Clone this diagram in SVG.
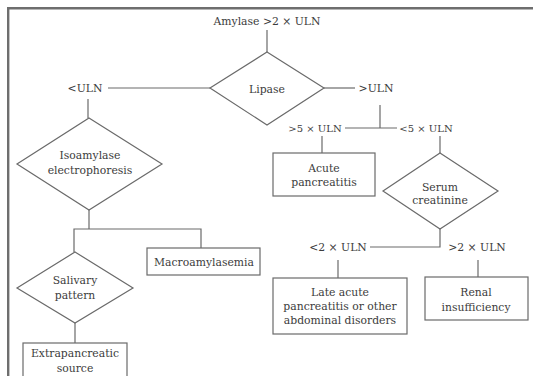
<svg xmlns="http://www.w3.org/2000/svg" width="533" height="376" viewBox="0 0 533 376">
  <style>
    .frame { stroke: #6e6e6e; stroke-width: 2.4; fill: none; }
    .shape { fill: #ffffff; stroke: #6a6a6a; stroke-width: 1.2; }
    .link { stroke: #6a6a6a; stroke-width: 1.2; fill: none; }
    text { font-family: "DejaVu Serif", "Liberation Serif", serif; font-size: 10.8px; fill: #3c3c3c; text-anchor: middle; dominant-baseline: central; }
    text.tight { font-size: 10px; }
  </style>
  <rect width="533" height="376" fill="#ffffff"/>
  <!-- page frame: top and left rules -->
  <path class="frame" d="M8.2,378 V8.2 H535"/>

  <!-- connectors and branch labels -->
  <g id="connectors">
    <path class="link" d="M267,30 V52"/>
    <path class="link" d="M210,88 H108"/>
    <path class="link" d="M324,88 H355"/>
    <path class="link" d="M380,105 V128 M345,128 H397"/>
    <path class="link" d="M88,99 V118"/>
    <path class="link" d="M322,136 V153"/>
    <path class="link" d="M440,136 V153"/>
    <path class="link" d="M89,210 V229 M74,252 V229 H201 V248"/>
    <path class="link" d="M75,323 V343"/>
    <path class="link" d="M440,229 V247 H370"/>
    <path class="link" d="M338,260 V278"/>
    <path class="link" d="M478,260 V277"/>
    <text x="267" y="21">Amylase &gt;2 × ULN</text>
    <text x="85" y="88">&lt;ULN</text>
    <text x="376" y="88">&gt;ULN</text>
    <text class="tight" x="315" y="128">&gt;5 × ULN</text>
    <text class="tight" x="426" y="128">&lt;5 × ULN</text>
    <text x="338" y="247">&lt;2 × ULN</text>
    <text x="477" y="247">&gt;2 × ULN</text>
  </g>

  <g id="lipase">
    <polygon class="shape" points="267,52 324,88 267,125 210,88"/>
    <text x="267" y="89">Lipase</text>
  </g>

  <g id="isoamylase">
    <polygon class="shape" points="89,118 162,164 89,210 17,164"/>
    <text x="90" y="155">Isoamylase</text>
    <text x="90" y="170">electrophoresis</text>
  </g>

  <g id="acute-pancreatitis">
    <rect class="shape" x="273" y="153" width="102" height="43"/>
    <text x="324" y="168">Acute</text>
    <text x="324" y="182">pancreatitis</text>
  </g>

  <g id="serum-creatinine">
    <polygon class="shape" points="440,153 498,191 440,229 383,191"/>
    <text x="440" y="187">Serum</text>
    <text x="440" y="200">creatinine</text>
  </g>

  <g id="macroamylasemia">
    <rect class="shape" x="147" y="248" width="113" height="27"/>
    <text x="204" y="262">Macroamylasemia</text>
  </g>

  <g id="salivary-pattern">
    <polygon class="shape" points="75,252 133,288 75,323 17,288"/>
    <text x="75" y="280">Salivary</text>
    <text x="75" y="295">pattern</text>
  </g>

  <g id="extrapancreatic-source">
    <rect class="shape" x="23" y="343" width="104" height="40"/>
    <text x="75" y="353">Extrapancreatic</text>
    <text x="75" y="368">source</text>
  </g>

  <g id="late-acute-pancreatitis">
    <rect class="shape" x="273" y="278" width="134" height="56"/>
    <text x="340" y="292">Late acute</text>
    <text x="340" y="306">pancreatitis or other</text>
    <text x="340" y="320">abdominal disorders</text>
  </g>

  <g id="renal-insufficiency">
    <rect class="shape" x="425" y="277" width="103" height="43"/>
    <text x="476" y="292">Renal</text>
    <text x="476" y="307">insufficiency</text>
  </g>
</svg>
